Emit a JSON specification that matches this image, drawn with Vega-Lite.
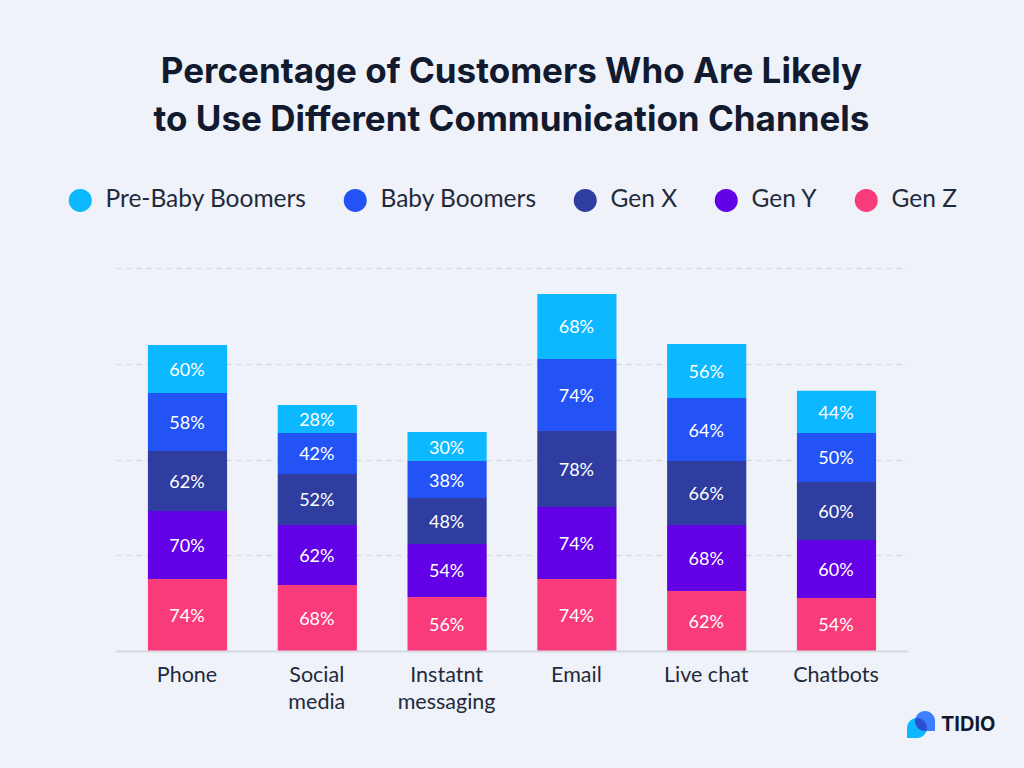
{
  "$schema": "https://vega.github.io/schema/vega-lite/v6.json",
  "width": 791,
  "height": 383,
  "autosize": "none",
  "padding": {"left": 116, "top": 268, "right": 117, "bottom": 117},
  "background": "#eff2f8",
  "title": {
    "text": ["Percentage of Customers Who Are Likely", "to Use Different Communication Channels"],
    "anchor": "middle",
    "frame": "group",
    "font": "Inter",
    "fontSize": 35,
    "fontWeight": 700,
    "lineHeight": 48,
    "color": "#111a2e",
    "offset": 50
  },
  "config": {
    "view": {"stroke": null},
    "font": "Lato"
  },
  "datasets": {
    "shares": [
      {"channel": "Phone", "cohort": "Gen Z", "rank": 1, "share": 75.2, "label": "74%"},
      {"channel": "Phone", "cohort": "Gen Y", "rank": 2, "share": 71, "label": "70%"},
      {"channel": "Phone", "cohort": "Gen X", "rank": 3, "share": 62.7, "label": "62%"},
      {"channel": "Phone", "cohort": "Baby Boomers", "rank": 4, "share": 60.6, "label": "58%"},
      {"channel": "Phone", "cohort": "Pre-Baby Boomers", "rank": 5, "share": 50.1, "label": "60%"},
      {"channel": "Social media", "cohort": "Gen Z", "rank": 1, "share": 68.9, "label": "68%"},
      {"channel": "Social media", "cohort": "Gen Y", "rank": 2, "share": 62.7, "label": "62%"},
      {"channel": "Social media", "cohort": "Gen X", "rank": 3, "share": 53.3, "label": "52%"},
      {"channel": "Social media", "cohort": "Baby Boomers", "rank": 4, "share": 42.8, "label": "42%"},
      {"channel": "Social media", "cohort": "Pre-Baby Boomers", "rank": 5, "share": 29.2, "label": "28%"},
      {"channel": "Instatnt messaging", "cohort": "Gen Z", "rank": 1, "share": 56.4, "label": "56%"},
      {"channel": "Instatnt messaging", "cohort": "Gen Y", "rank": 2, "share": 55.4, "label": "54%"},
      {"channel": "Instatnt messaging", "cohort": "Gen X", "rank": 3, "share": 48, "label": "48%"},
      {"channel": "Instatnt messaging", "cohort": "Baby Boomers", "rank": 4, "share": 38.6, "label": "38%"},
      {"channel": "Instatnt messaging", "cohort": "Pre-Baby Boomers", "rank": 5, "share": 30.3, "label": "30%"},
      {"channel": "Email", "cohort": "Gen Z", "rank": 1, "share": 75.2, "label": "74%"},
      {"channel": "Email", "cohort": "Gen Y", "rank": 2, "share": 75.2, "label": "74%"},
      {"channel": "Email", "cohort": "Gen X", "rank": 3, "share": 79.4, "label": "78%"},
      {"channel": "Email", "cohort": "Baby Boomers", "rank": 4, "share": 75.2, "label": "74%"},
      {"channel": "Email", "cohort": "Pre-Baby Boomers", "rank": 5, "share": 67.9, "label": "68%"},
      {"channel": "Live chat", "cohort": "Gen Z", "rank": 1, "share": 62.7, "label": "62%"},
      {"channel": "Live chat", "cohort": "Gen Y", "rank": 2, "share": 68.9, "label": "68%"},
      {"channel": "Live chat", "cohort": "Gen X", "rank": 3, "share": 66.8, "label": "66%"},
      {"channel": "Live chat", "cohort": "Baby Boomers", "rank": 4, "share": 65.8, "label": "64%"},
      {"channel": "Live chat", "cohort": "Pre-Baby Boomers", "rank": 5, "share": 56.4, "label": "56%"},
      {"channel": "Chatbots", "cohort": "Gen Z", "rank": 1, "share": 55.4, "label": "54%"},
      {"channel": "Chatbots", "cohort": "Gen Y", "rank": 2, "share": 60.6, "label": "60%"},
      {"channel": "Chatbots", "cohort": "Gen X", "rank": 3, "share": 60.6, "label": "60%"},
      {"channel": "Chatbots", "cohort": "Baby Boomers", "rank": 4, "share": 51.2, "label": "50%"},
      {"channel": "Chatbots", "cohort": "Pre-Baby Boomers", "rank": 5, "share": 43.9, "label": "44%"}
    ],
    "brand": [{"channel": "Chatbots", "share": 0, "name": "TIDIO"}]
  },
  "data": {"name": "shares"},
  "encoding": {
    "x": {
      "field": "channel",
      "type": "nominal",
      "sort": null,
      "title": null,
      "scale": {"paddingInner": 0.39, "paddingOuter": 0.242},
      "axis": {
        "labelAngle": 0,
        "labelFont": "Lato",
        "labelFontSize": 21.5,
        "labelColor": "#1f2a3c",
        "labelPadding": 13,
        "labelLineHeight": 27,
        "labelBaseline": "top",
        "labelExpr": "datum.label == 'Social media' ? ['Social', 'media'] : datum.label == 'Instatnt messaging' ? ['Instatnt', 'messaging'] : datum.label",
        "ticks": false,
        "domainColor": "#d5d9e2",
        "domainWidth": 2,
        "zindex": 1
      }
    }
  },
  "layer": [
    {
      "mark": {"type": "bar", "xOffset": 0.5},
      "encoding": {
        "y": {
          "field": "share",
          "type": "quantitative",
          "stack": "zero",
          "title": null,
          "scale": {"domain": [0, 400], "nice": false},
          "axis": {
            "values": [0, 100, 200, 300, 400],
            "labels": false,
            "ticks": false,
            "domain": false,
            "grid": true,
            "gridColor": "#d5d9e2",
            "gridDash": [5, 5],
            "gridWidth": 1.5
          }
        },
        "color": {
          "field": "cohort",
          "type": "nominal",
          "title": null,
          "scale": {
            "domain": ["Pre-Baby Boomers", "Baby Boomers", "Gen X", "Gen Y", "Gen Z"],
            "range": ["#0cb8ff", "#2353f5", "#2e3d9f", "#6200e6", "#f93b7b"]
          },
          "legend": {
            "orient": "none",
            "legendX": -48,
            "legendY": -80,
            "direction": "horizontal",
            "columns": 5,
            "columnPadding": 36,
            "padding": 0,
            "symbolType": "circle",
            "symbolSize": 529,
            "symbolStrokeWidth": 0,
            "labelFont": "Lato",
            "labelFontSize": 24.5,
            "labelColor": "#1f2a3c",
            "labelOffset": 13,
            "labelLimit": 400
          }
        },
        "order": {"field": "rank", "type": "ordinal"}
      }
    },
    {
      "mark": {"type": "text", "color": "#ffffff", "font": "Lato", "fontSize": 18, "baseline": "middle", "dy": 2},
      "encoding": {
        "y": {"field": "share", "type": "quantitative", "stack": "zero", "bandPosition": 0.5},
        "detail": {"field": "cohort"},
        "order": {"field": "rank", "type": "ordinal"},
        "text": {"field": "label", "type": "nominal"}
      }
    },
    {
      "data": {"name": "brand"},
      "mark": {"type": "point", "filled": true, "opacity": 1, "size": 784, "clip": false, "color": "#0cb8ff", "xOffset": 85, "yOffset": 73.5, "shape": "M -1 .964 L -1 .25 A .714 .714 0 0 1 -.286 -.464 A .714 .714 0 0 1 .428 .25 A .714 .714 0 0 1 -.286 .964 Z"},
      "encoding": {"y": {"field": "share", "type": "quantitative"}}
    },
    {
      "data": {"name": "brand"},
      "mark": {"type": "point", "filled": true, "opacity": 1, "size": 784, "clip": false, "color": "#3f7fff", "xOffset": 85, "yOffset": 73.5, "shape": "M 1 .464 L 1 -.25 A .714 .714 0 0 0 .286 -.964 A .714 .714 0 0 0 -.428 -.25 A .714 .714 0 0 0 .286 .464 Z"},
      "encoding": {"y": {"field": "share", "type": "quantitative"}}
    },
    {
      "data": {"name": "brand"},
      "mark": {"type": "point", "filled": true, "opacity": 1, "size": 784, "clip": false, "color": "#2a50d0", "xOffset": 85, "yOffset": 73.5, "shape": "M -.397 -.455 A .714 .714 0 0 1 .397 .455 A .714 .714 0 0 1 -.397 -.455 Z"},
      "encoding": {"y": {"field": "share", "type": "quantitative"}}
    },
    {
      "data": {"name": "brand"},
      "mark": {"type": "text", "font": "Inter", "fontSize": 20, "fontWeight": 700, "align": "left", "baseline": "middle", "color": "#111a2e", "xOffset": 105, "yOffset": 74},
      "encoding": {
        "y": {"field": "share", "type": "quantitative"},
        "text": {"field": "name", "type": "nominal"}
      }
    }
  ]
}
